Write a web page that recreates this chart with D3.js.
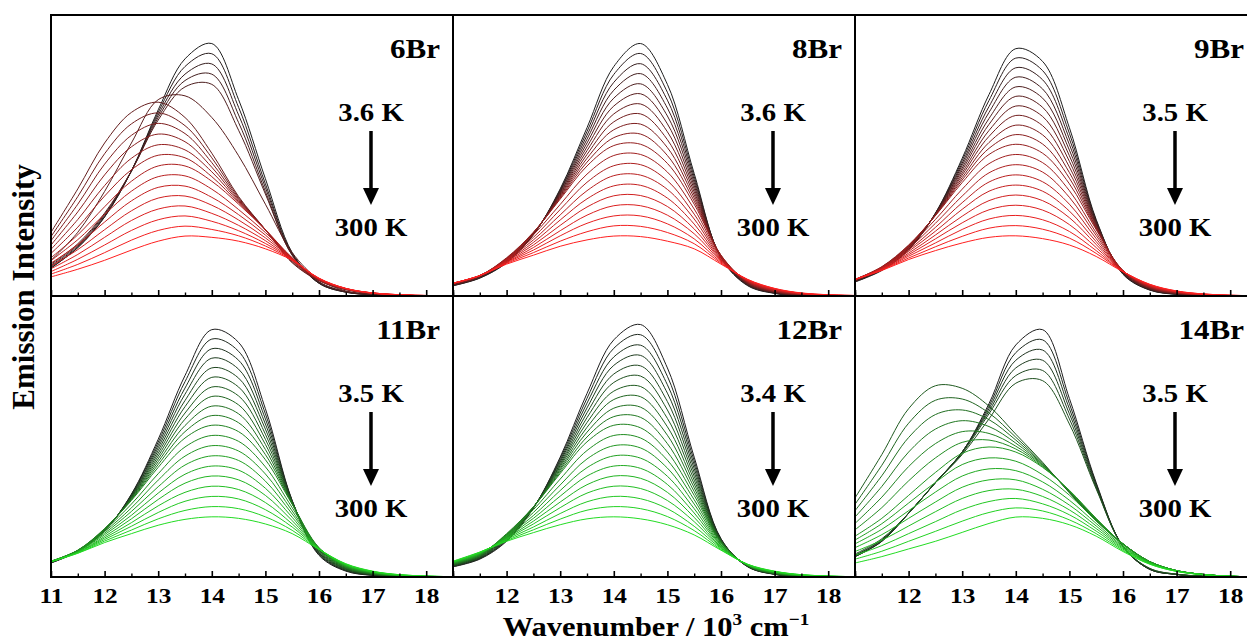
<!DOCTYPE html>
<html><head><meta charset="utf-8">
<script src="https://cdn.jsdelivr.net/npm/d3@7"></script>
<style>
body{margin:0;background:#fff}
svg{display:block}
text{font-family:"Liberation Serif","Times New Roman",serif;font-weight:bold;fill:#000}
</style>
</head><body>
<svg id="chart" width="1247" height="644"></svg>
<script>
// ---------- data ----------
const wavenumbers = [11,11.5,12,12.5,13,13.5,14,14.5,15,15.5,16,16.5,17,17.5,18,18.5];
const panelNames = ["6Br","8Br","9Br","11Br","12Br","14Br"];
const lowTemps = ["3.6 K","3.6 K","3.5 K","3.5 K","3.4 K","3.5 K"];
const highTemp = "300 K";
const xTickValues = [11,12,13,14,15,16,17,18];
const minorTickValues = [11.5,12.5,13.5,14.5,15.5,16.5,17.5,18.5];
const yTitle = "Emission Intensity";

// each row: one temperature, 3.x K (first) to 300 K (last); intensity, % of the strongest band
const spectra6Br = [
[11,19,31,49,73,93,99,77,46,17,5,1.5,0.5,0.2,0,0],
[11,19,31,49,72,90,95,74,44,16.5,5,1.5,0.5,0.2,0,0],
[11.5,19.5,31.5,49,71,87,91,71,42.5,16.5,5.2,1.6,0.5,0.2,0,0],
[12,20,32,49,70,84.5,87,68,41,16,5.4,1.7,0.6,0.2,0,0],
[12.5,20.5,32.5,49,69,82,83,65,40,16,5.6,1.8,0.6,0.2,0,0],
[14,25,41,60,77,78.5,70,55,36,17,6.5,2,0.7,0.2,0,0],
[25,42,60,72,76,70,56,39,26,13,6,2.5,1,0.4,0.1,0],
[23.3,39,55.8,67.5,71.8,66.8,54.2,38.5,26,13.3,6.1,2.6,1,0.4,0.1,0],
[21.7,36,51.7,63,67.7,63.7,52.3,38,26,13.7,6.2,2.6,1,0.4,0.1,0],
[20,33,47.5,58.5,63.5,60.5,50.5,37.5,26,14,6.3,2.7,1.1,0.4,0.1,0],
[18.3,30,43.3,54,59.3,57.3,48.7,37,26,14.3,6.3,2.7,1.1,0.4,0.1,0],
[16.7,27,39.2,49.5,55.2,54.2,46.8,36.5,26,14.7,6.4,2.8,1.1,0.4,0.1,0],
[15,24,35,45,51,51,45,36,26,15,6.5,2.8,1.1,0.4,0.1,0],
[13.9,22.1,32,41.1,46.8,47.1,41.9,33.9,24.9,14.9,6.6,2.8,1.1,0.4,0.1,0],
[12.9,20.1,29,37.3,42.6,43.1,38.7,31.9,23.9,14.7,6.6,2.9,1.1,0.4,0.1,0],
[11.8,18.2,26,33.4,38.4,39.2,35.6,29.8,22.8,14.6,6.7,2.9,1.1,0.4,0.1,0],
[10.7,16.3,23,29.6,34.1,35.3,32.4,27.7,21.7,14.4,6.8,2.9,1.2,0.5,0.2,0.1],
[9.6,14.4,20,25.7,29.9,31.4,29.3,25.6,20.6,14.3,6.9,2.9,1.2,0.5,0.2,0.1],
[8.6,12.4,17,21.9,25.7,27.4,26.1,23.6,19.6,14.1,6.9,3,1.2,0.5,0.2,0.1],
[7.5,10.5,14,18,21.5,23.5,23,21.5,18.5,14,7,3,1.2,0.5,0.2,0.1]
];
const spectra8Br = [
[4,7,13,24,42,66,90,99,83,48,15,4,1,0,0,0],
[4.1,7.1,13.2,24.1,41.6,64.5,86.9,95.1,79.9,46.8,15.1,4.2,1.1,0.1,0,0],
[4.2,7.2,13.4,24.2,41.2,63,83.8,91.1,76.8,45.6,15.2,4.3,1.2,0.1,0,0],
[4.3,7.3,13.6,24.3,40.8,61.5,80.7,87.2,73.7,44.4,15.3,4.5,1.3,0.2,0.1,0],
[4.4,7.4,13.8,24.4,40.4,60,77.6,83.2,70.6,43.2,15.4,4.6,1.4,0.3,0.1,0],
[4.5,7.5,14,24.5,40,58.5,74.5,79.3,67.5,42,15.5,4.8,1.5,0.4,0.1,0],
[4.6,7.6,14.2,24.6,39.6,57,71.4,75.3,64.4,40.8,15.6,4.9,1.6,0.4,0.1,0],
[4.7,7.7,14.4,24.7,39.2,55.5,68.3,71.4,61.3,39.6,15.7,5.1,1.7,0.5,0.1,0],
[4.8,7.8,14.6,24.8,38.8,54,65.2,67.4,58.2,38.4,15.8,5.2,1.8,0.6,0.2,0],
[4.9,7.9,14.8,24.9,38.4,52.5,62.1,63.5,55.1,37.2,15.9,5.4,1.9,0.6,0.2,0],
[5,8,15,25,38,51,59,59.5,52,36,16,5.5,2,0.7,0.2,0],
[5,8,14.7,24,35.9,47.8,55.1,55.5,48.6,34.1,15.6,5.6,2.1,0.8,0.2,0],
[5,8,14.4,23,33.9,44.6,51.1,51.5,45.2,32.1,15.2,5.7,2.2,0.8,0.3,0],
[5,8,14.2,22,31.8,41.3,47.2,47.4,41.8,30.2,14.8,5.8,2.3,0.9,0.3,0.1],
[5,8,13.9,21,29.8,38.1,43.2,43.4,38.4,28.2,14.4,5.9,2.4,0.9,0.3,0.1],
[5,8,13.6,20,27.7,34.9,39.3,39.4,35.1,26.3,14.1,6.1,2.6,1,0.4,0.1],
[5,8,13.3,19,25.6,31.7,35.4,35.4,31.7,24.4,13.7,6.2,2.7,1,0.4,0.1],
[5,8,13.1,18,23.6,28.5,31.4,31.4,28.3,22.4,13.3,6.3,2.8,1.1,0.4,0.2],
[5,8,12.8,17,21.5,25.2,27.5,27.3,24.9,20.5,12.9,6.4,2.9,1.1,0.5,0.2],
[5,8,12.5,16,19.5,22,23.5,23.3,21.5,18.5,12.5,6.5,3,1.2,0.5,0.2]
];
const spectra9Br = [
[5.5,10,18,32.5,54,79,97,92,66,30,8.5,2.3,0.6,0.2,0,0],
[5.6,10.2,18.2,32.4,53.1,76.7,93.3,88.4,63.8,29.6,8.7,2.4,0.7,0.2,0,0],
[5.7,10.3,18.4,32.3,52.1,74.3,89.5,84.8,61.6,29.2,8.8,2.5,0.7,0.2,0,0],
[5.8,10.5,18.6,32.2,51.2,72,85.8,81.2,59.4,28.8,9,2.7,0.8,0.3,0,0],
[5.9,10.6,18.8,32.1,50.2,69.6,82,77.6,57.2,28.4,9.1,2.8,0.9,0.3,0,0],
[6,10.8,19,32,49.3,67.3,78.3,74,55,28,9.3,2.9,1,0.3,0.1,0],
[6.1,10.9,19.2,31.9,48.3,64.9,74.5,70.4,52.8,27.6,9.4,3,1,0.3,0.1,0],
[6.2,11.1,19.4,31.8,47.4,62.6,70.8,66.8,50.6,27.2,9.6,3.1,1.1,0.3,0.1,0],
[6.3,11.2,19.6,31.7,46.4,60.2,67,63.2,48.4,26.8,9.7,3.3,1.2,0.4,0.1,0],
[6.4,11.4,19.8,31.6,45.5,57.9,63.3,59.6,46.2,26.4,9.9,3.4,1.2,0.4,0.1,0],
[6.5,11.5,20,31.5,44.5,55.5,59.5,56,44,26,10,3.5,1.3,0.4,0.1,0],
[6.5,11.3,19.4,30,41.9,51.9,55.5,52.3,41.3,24.8,9.9,3.6,1.4,0.4,0.1,0],
[6.5,11.2,18.7,28.5,39.2,48.3,51.5,48.6,38.7,23.7,9.9,3.7,1.5,0.5,0.1,0],
[6.5,11,18.1,26.9,36.6,44.7,47.5,44.8,36,22.5,9.8,3.9,1.5,0.5,0.2,0],
[6.5,10.8,17.5,25.4,34,41.1,43.5,41.1,33.3,21.3,9.8,4,1.6,0.6,0.2,0],
[6.5,10.7,16.8,23.9,31.3,37.4,39.6,37.4,30.7,20.2,9.7,4.1,1.7,0.6,0.2,0.1],
[6.5,10.5,16.2,22.4,28.7,33.8,35.6,33.7,28,19,9.7,4.2,1.8,0.7,0.2,0.1],
[6.5,10.3,15.6,20.8,26.1,30.2,31.6,29.9,25.3,17.8,9.6,4.4,1.8,0.7,0.3,0.1],
[6.5,10.2,14.9,19.3,23.4,26.6,27.6,26.2,22.7,16.7,9.6,4.5,1.9,0.8,0.3,0.1],
[6.5,10,14.3,17.8,20.8,23,23.6,22.5,20,15.5,9.5,4.6,2,0.8,0.3,0.1]
];
const spectra11Br = [
[5.5,10,18,32.5,54,79,97,92,66,30,8.5,2.3,0.6,0.2,0,0],
[5.6,10.1,18.1,32.3,52.9,76.6,93.3,88.5,64,29.9,8.8,2.5,0.7,0.2,0,0],
[5.6,10.1,18.2,32,51.8,74.1,89.5,85,62,29.7,9.1,2.6,0.8,0.3,0,0],
[5.7,10.2,18.3,31.8,50.7,71.7,85.8,81.5,60,29.6,9.4,2.8,0.9,0.3,0,0],
[5.8,10.2,18.4,31.5,49.6,69.2,82,78,58,29.4,9.7,3,1,0.3,0,0],
[5.9,10.3,18.5,31.3,48.5,66.8,78.3,74.5,56,29.3,10,3.2,1.1,0.4,0.1,0],
[5.9,10.3,18.6,31,47.4,64.3,74.5,71,54,29.1,10.3,3.3,1.1,0.4,0.1,0],
[6,10.4,18.7,30.8,46.3,61.9,70.8,67.5,52,29,10.6,3.5,1.2,0.4,0.1,0],
[6.1,10.4,18.8,30.5,45.2,59.4,67,64,50,28.8,10.9,3.7,1.3,0.4,0.1,0],
[6.1,10.5,18.9,30.3,44.1,57,63.3,60.5,48,28.7,11.2,3.8,1.4,0.5,0.1,0],
[6.2,10.5,19,30,43,54.5,59.5,57,46,28.5,11.5,4,1.5,0.5,0.1,0],
[6.2,10.4,18.4,28.6,40.5,51,55.5,53.2,43.2,27.2,11.4,4.1,1.6,0.5,0.1,0],
[6.2,10.2,17.8,27.1,38,47.4,51.5,49.4,40.4,25.9,11.3,4.3,1.7,0.6,0.2,0],
[6.1,10.1,17.2,25.7,35.4,43.9,47.5,45.7,37.6,24.7,11.3,4.4,1.8,0.6,0.2,0],
[6.1,10,16.6,24.2,32.9,40.3,43.5,41.9,34.8,23.4,11.2,4.5,1.9,0.7,0.2,0],
[6.1,9.8,15.9,22.8,30.4,36.8,39.6,38.1,32,22.1,11.1,4.7,1.9,0.7,0.3,0.1],
[6.1,9.7,15.3,21.3,27.9,33.2,35.6,34.3,29.2,20.8,11,4.8,2,0.8,0.3,0.1],
[6,9.6,14.7,19.9,25.3,29.7,31.6,30.6,26.4,19.6,11,4.9,2.1,0.8,0.3,0.1],
[6,9.4,14.1,18.4,22.8,26.1,27.6,26.8,23.6,18.3,10.9,5.1,2.2,0.9,0.4,0.1],
[6,9.3,13.5,17,20.3,22.6,23.6,23,20.8,17,10.8,5.2,2.3,0.9,0.4,0.1]
];
const spectra12Br = [
[4,7,14,27,47,72,93,99,82,47,15,4,1,0,0,0],
[4.1,7.2,14.3,27.1,46.4,70.1,89.7,95,78.7,45.5,14.9,4,1.1,0.1,0,0],
[4.3,7.3,14.6,27.1,45.7,68.2,86.3,90.9,75.4,44,14.7,4.1,1.1,0.1,0,0],
[4.4,7.5,14.9,27.2,45.1,66.3,83,86.9,72.1,42.5,14.6,4.2,1.2,0.2,0,0],
[4.5,7.7,15.2,27.2,44.4,64.4,79.6,82.8,68.8,41,14.4,4.2,1.2,0.2,0,0],
[4.7,7.9,15.5,27.3,43.8,62.5,76.3,78.8,65.5,39.5,14.3,4.3,1.3,0.3,0.1,0],
[4.8,8,15.8,27.3,43.2,60.6,72.9,74.7,62.2,38,14.1,4.3,1.4,0.3,0.1,0],
[4.9,8.2,16.1,27.4,42.5,58.7,69.6,70.7,58.9,36.5,14,4.4,1.4,0.4,0.1,0],
[5,8.4,16.4,27.4,41.9,56.8,66.2,66.6,55.6,35,13.8,4.4,1.5,0.4,0.1,0],
[5.2,8.5,16.7,27.5,41.2,54.9,62.9,62.6,52.3,33.5,13.7,4.5,1.5,0.5,0.1,0],
[5.3,8.7,17,27.5,40.6,53,59.5,58.5,49,32,13.5,4.5,1.6,0.5,0.1,0],
[5.4,8.8,16.7,26.4,38.4,49.6,55.5,54.5,45.8,30.3,13.2,4.6,1.7,0.5,0.1,0],
[5.5,8.9,16.3,25.3,36.1,46.3,51.5,50.6,42.7,28.6,12.8,4.6,1.8,0.6,0.2,0],
[5.6,9.1,16,24.1,33.9,42.9,47.5,46.6,39.5,26.8,12.5,4.7,1.8,0.6,0.2,0],
[5.7,9.2,15.7,23,31.7,39.6,43.5,42.6,36.3,25.1,12.2,4.7,1.9,0.7,0.2,0],
[5.8,9.3,15.3,21.9,29.4,36.2,39.6,38.7,33.2,23.4,11.8,4.8,2,0.7,0.3,0.1],
[5.9,9.4,15,20.8,27.2,32.9,35.6,34.7,30,21.7,11.5,4.8,2.1,0.8,0.3,0.1],
[6,9.6,14.7,19.6,24.9,29.5,31.6,30.7,26.8,19.9,11.2,4.9,2.1,0.8,0.3,0.1],
[6.1,9.7,14.3,18.5,22.7,26.2,27.6,26.8,23.7,18.2,10.8,4.9,2.2,0.9,0.4,0.1],
[6.2,9.8,14,17.4,20.5,22.8,23.6,22.8,20.5,16.5,10.5,5,2.3,0.9,0.4,0.1]
];
const spectra14Br = [
[8,14,25,37,49,68,91,97,70,37,12,3,1,0.3,0,0],
[8,14,25,37,49,67,88,93,68,36.5,12,3,1,0.3,0,0],
[8,14,25,37,49,66,85,89,66,36,12,3,1,0.3,0,0],
[8.5,14.5,25,37,49,65,82,85,64,35.5,12,3.2,1,0.3,0,0],
[8.5,14.5,25,37,48.5,64,79,81,62,35,12,3.3,1.1,0.3,0,0],
[9,15,25,37,48,62,76,77,60,34.5,12,3.4,1.1,0.4,0.1,0],
[31,48,66,75,74,67,56,45,33,22,13,6,2.5,1,0.3,0.1],
[28.5,43.8,60.3,69.3,69.8,64.3,54.8,44.7,33.2,22.2,13,6,2.5,1,0.3,0.1],
[26,39.7,54.7,63.7,65.5,61.7,53.7,44.3,33.3,22.3,13,6,2.5,1,0.3,0.1],
[23.5,35.5,49,58,61.3,59,52.5,44,33.5,22.5,13,6,2.5,1,0.3,0.1],
[21,31.3,43.3,52.3,57,56.3,51.3,43.7,33.7,22.7,13,6,2.5,1,0.3,0.1],
[18.5,27.2,37.7,46.7,52.8,53.7,50.2,43.3,33.8,22.8,13,6,2.5,1,0.3,0.1],
[16,23,32,41,48.5,51,49,43,34,23,13,6,2.5,1,0.3,0.1],
[14.5,20.9,29,37.1,44.1,46.7,45.4,40.1,32.1,22,12.6,5.9,2.5,1,0.3,0.1],
[13,18.7,26,33.3,39.6,42.4,41.7,37.3,30.1,21,12.1,5.7,2.4,1,0.3,0.1],
[11.5,16.6,23,29.4,35.2,38.1,38.1,34.4,28.2,20,11.7,5.6,2.4,0.9,0.3,0.1],
[10,14.4,20,25.6,30.8,33.9,34.4,31.6,26.3,19,11.3,5.4,2.4,0.9,0.3,0.1],
[8.5,12.3,17,21.7,26.4,29.6,30.8,28.7,24.4,18,10.9,5.3,2.3,0.9,0.3,0.1],
[7,10.1,14,17.9,21.9,25.3,27.1,25.9,22.4,17,10.4,5.1,2.2,0.9,0.3,0.1],
[5.5,8,11,14,17.5,21,23.5,23,20.5,16,10,5,2.2,0.9,0.3,0.1]
];
const allSpectra = [spectra6Br, spectra8Br, spectra9Br, spectra11Br, spectra12Br, spectra14Br];

// ---------- layout ----------
const svg = d3.select("#chart");
const LEFT = 51, TOP = 15, PW = 402, PH = 281;
const SX = 1.15; // horizontal stretch of the lettering
const defs = svg.append("defs");

panelNames.forEach((name, i) => {
  const col = i % 3, row = Math.floor(i / 3);
  const x0 = LEFT + col * PW, y0 = TOP + row * PH;
  const x = d3.scaleLinear().domain([11, 18.5]).range([x0, x0 + PW]);
  const y = d3.scaleLinear().domain([0, 110.2]).range([y0 + PH, y0]);
  const rows = allSpectra[i];

  defs.append("clipPath").attr("id", "clip" + i)
    .append("rect").attr("x", x0).attr("y", y0).attr("width", PW).attr("height", PH);

  const color = d3.interpolateRgb("#1e1e1e", row === 0 ? "#ff1f1f" : "#22dc22");
  const line = d3.line()
    .x((d, j) => x(wavenumbers[j]))
    .y(d => y(d))
    .curve(d3.curveCatmullRom.alpha(0.5));

  svg.append("g").attr("clip-path", `url(#clip${i})`)
    .selectAll("path").data(rows).join("path")
    .attr("d", line)
    .attr("fill", "none")
    .attr("stroke", (d, k) => color(k / (rows.length - 1)))
    .attr("stroke-width", 1);

  // ticks (inward) on bottom edge
  const showLabels = row === 1;
  const major = d3.axisBottom(x).tickValues(xTickValues)
    .tickSizeInner(-6).tickSizeOuter(0).tickPadding(10)
    .tickFormat(v => (showLabels && !(col > 0 && v === 11)) ? d3.format("d")(v) : "");
  const gMaj = svg.append("g").attr("transform", `translate(0,${y0 + PH})`).call(major);
  gMaj.select(".domain").remove();
  gMaj.selectAll("line").attr("stroke", "#000").attr("stroke-width", 1.6);
  gMaj.selectAll("text").attr("font-size", 22).attr("font-family", null)
    .attr("transform", `scale(${SX},1)`).style("fill", "#000");

  const minor = d3.axisBottom(x).tickValues(minorTickValues)
    .tickSizeInner(-3.5).tickSizeOuter(0).tickFormat(() => "");
  const gMin = svg.append("g").attr("transform", `translate(0,${y0 + PH})`).call(minor);
  gMin.select(".domain").remove();
  gMin.selectAll("line").attr("stroke", "#000").attr("stroke-width", 1.4);

  // frame
  svg.append("rect").attr("x", x0).attr("y", y0).attr("width", PW).attr("height", PH)
    .attr("fill", "none").attr("stroke", "#000").attr("stroke-width", 2);

  // panel name
  svg.append("text").attr("transform", `translate(${x0 + PW - 13},${y0 + 43}) scale(${SX},1)`)
    .attr("text-anchor", "end").attr("font-size", 27).text(name);

  // temperature arrow
  const ax = x(16.97);
  svg.append("text").attr("transform", `translate(${ax},${y0 + 106}) scale(${SX},1)`)
    .attr("text-anchor", "middle").attr("font-size", 25).text(lowTemps[i]);
  svg.append("text").attr("transform", `translate(${ax},${y0 + 221}) scale(${SX},1)`)
    .attr("text-anchor", "middle").attr("font-size", 25).text(highTemp);
  svg.append("line").attr("x1", ax).attr("x2", ax).attr("y1", y0 + 116).attr("y2", y0 + 176)
    .attr("stroke", "#000").attr("stroke-width", 3.5);
  svg.append("path")
    .attr("d", `M${ax - 8},${y0 + 173}L${ax + 8},${y0 + 173}L${ax},${y0 + 190}Z`)
    .attr("fill", "#000");
});

// axis titles
svg.append("text").attr("transform", "translate(34,287) rotate(-90)")
  .attr("text-anchor", "middle").attr("font-size", 31).text(yTitle);

const xt = svg.append("text").attr("transform", "translate(656,636) scale(1.13,1)")
  .attr("text-anchor", "middle").attr("font-size", 27);
xt.append("tspan").text("Wavenumber / 10");
xt.append("tspan").attr("font-size", 17).attr("dy", -11).text("3");
xt.append("tspan").attr("dy", 11).text(" cm");
xt.append("tspan").attr("font-size", 17).attr("dy", -11).text("\u22121");
</script>
</body></html>
